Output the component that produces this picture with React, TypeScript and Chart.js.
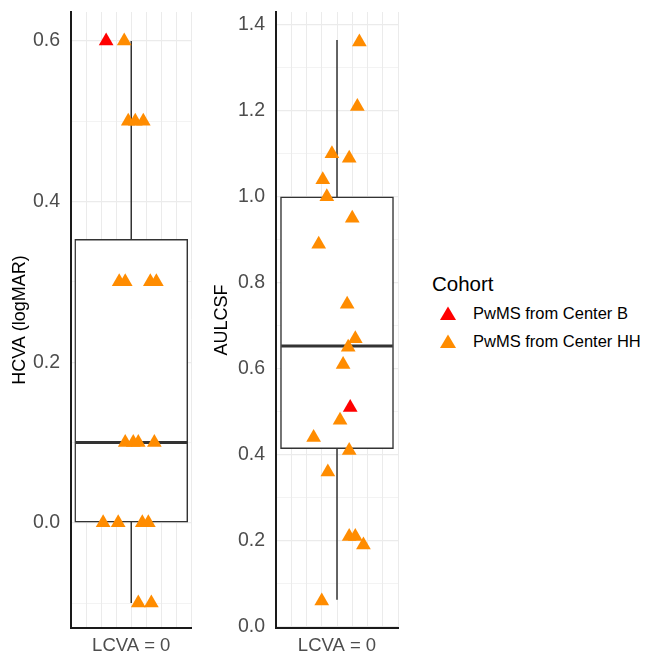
import React, { useEffect, useRef } from 'react';
import { Chart, registerables } from 'chart.js';

Chart.register(...registerables);

const FONT = "'Liberation Sans', Arial, Helvetica, sans-serif";

// ---------- data ----------
const CATEGORY = 'LCVA = 0';
const CATEGORY_POS = 1;
const COHORTS = ['PwMS from Center B', 'PwMS from Center HH'];
const COLORS = ['#FF0000', '#FF8C00'];
const LEGEND_TITLE = 'Cohort';

// x grid ticks (jitter axis around the single category)
const xGridTicks = [0.4, 0.55, 0.7, 0.85, 1.0, 1.15, 1.3, 1.45, 1.6];

// HCVA (logMAR) panel
const hcvaB = [0.6];
const hcvaBJitter = [0.75];
const hcvaHH = [0.6, 0.5, 0.5, 0.5, 0.3, 0.3, 0.3, 0.3, 0.1, 0.1, 0.1, 0.1, 0.0, 0.0, 0.0, 0.0, -0.1, -0.1];
const hcvaHHJitter = [0.93, 0.97, 1.04, 1.12, 0.88, 0.94, 1.19, 1.25, 0.94, 1.02, 1.07, 1.23, 0.72, 0.87, 1.11, 1.17, 1.07, 1.2];
// min, q1, median, q3, max
const hcvaBox = [-0.1, 0.0, 0.1, 0.353, 0.6];

// AULCSF panel
const aulcsfB = [0.51];
const aulcsfBJitter = [1.13];
const aulcsfHH = [1.36, 1.21, 1.1, 1.09, 1.04, 1.0, 0.95, 0.89, 0.75, 0.67, 0.65, 0.61, 0.48, 0.44, 0.41, 0.36, 0.21, 0.21, 0.19, 0.06];
const aulcsfHHJitter = [1.22, 1.2, 0.95, 1.12, 0.86, 0.9, 1.15, 0.82, 1.1, 1.18, 1.11, 1.06, 1.03, 0.77, 1.12, 0.91, 1.12, 1.18, 1.26, 0.85];
const aulcsfBox = [0.063, 0.414, 0.653, 1.0, 1.365];

type PanelProps = {
  left: number;
  width: number;
  height: number;
  yAxisWidth: number;
  padRight: number;
  titlePad: number;
  title: string;
  yMin: number;
  yMax: number;
  bY: number[];
  bX: number[];
  hhY: number[];
  hhX: number[];
  box: number[];
};

const isMajor = (v: number) => Math.round(v * 10) % 2 === 0;

function Panel(p: PanelProps) {
  const ref = useRef<HTMLCanvasElement>(null);
  useEffect(() => {
    const medianPlugin = {
      id: 'medianLine',
      afterDatasetDraw(chart: any, args: any) {
        if (args.index !== 2) return;
        const el = args.meta.data[0];
        if (!el) return;
        const ctx = chart.ctx;
        const y = chart.scales.y.getPixelForValue(p.box[2]);
        const half = el.width / 2;
        ctx.save();
        ctx.beginPath();
        ctx.lineWidth = 3;
        ctx.strokeStyle = '#333333';
        ctx.moveTo(el.x - half + 0.75, y);
        ctx.lineTo(el.x + half - 0.75, y);
        ctx.stroke();
        ctx.restore();
      },
    };
    const chart = new Chart(ref.current as HTMLCanvasElement, {
      type: 'scatter',
      data: {
        datasets: [
          {
            label: COHORTS[0],
            data: p.bY.map((y, i) => ({ x: p.bX[i], y })),
            pointStyle: 'triangle',
            pointRadius: 8.5,
            pointBackgroundColor: COLORS[0],
            pointBorderWidth: 0,
            borderColor: COLORS[0],
            backgroundColor: COLORS[0],
            order: 0,
          } as any,
          {
            label: COHORTS[1],
            data: p.hhY.map((y, i) => ({ x: p.hhX[i], y })),
            pointStyle: 'triangle',
            pointRadius: 8.5,
            pointBackgroundColor: COLORS[1],
            pointBorderWidth: 0,
            borderColor: COLORS[1],
            backgroundColor: COLORS[1],
            order: 0,
          } as any,
          {
            type: 'bar',
            label: 'box',
            data: [{ x: CATEGORY_POS, y: [p.box[1], p.box[3]] }],
            backgroundColor: '#FFFFFF',
            borderColor: '#333333',
            borderWidth: 1.5,
            borderSkipped: false,
            barThickness: 113,
            order: 1,
          } as any,
          {
            type: 'line',
            label: 'whisker',
            data: [
              { x: CATEGORY_POS, y: p.box[0] },
              { x: CATEGORY_POS, y: p.box[4] },
            ],
            borderColor: '#333333',
            borderWidth: 1.5,
            pointRadius: 0,
            showLine: true,
            order: 2,
          } as any,
        ],
      },
      options: {
        responsive: false,
        animation: false,
        devicePixelRatio: 1,
        events: [],
        layout: { padding: { left: 0, top: 12, right: p.padRight, bottom: 0 } },
        plugins: { legend: { display: false }, tooltip: { enabled: false } },
        scales: {
          x: {
            type: 'linear',
            min: 0.4,
            max: 1.6,
            offset: false,
            afterBuildTicks: (s: any) => {
              s.ticks = xGridTicks.map((v) => ({ value: v }));
            },
            afterFit: (s: any) => {
              s.height = 26;
              s.paddingLeft = 0;
              s.paddingRight = 0;
              s.paddingTop = 0;
              s.paddingBottom = 0;
            },
            grid: { color: '#EBEBEB', lineWidth: 1, drawTicks: false, offset: false },
            border: { display: true, color: '#1A1A1A', width: 2 },
            ticks: {
              autoSkip: false,
              maxRotation: 0,
              minRotation: 0,
              padding: 7,
              color: '#4D4D4D',
              font: { family: FONT, size: 18.5 },
              callback: (v: any) => (Math.abs(Number(v) - CATEGORY_POS) < 1e-6 ? CATEGORY : ''),
            },
          },
          y: {
            type: 'linear',
            min: p.yMin,
            max: p.yMax,
            beginAtZero: false,
            stacked: false,
            afterFit: (s: any) => {
              s.width = p.yAxisWidth;
              s.paddingTop = 0;
              s.paddingBottom = 0;
              s.paddingLeft = 0;
              s.paddingRight = 0;
            },
            grid: {
              color: '#EBEBEB',
              drawTicks: false,
              lineWidth: (c: any) => (c.tick && isMajor(c.tick.value) ? 1.2 : 0.6),
            },
            border: { display: true, color: '#1A1A1A', width: 2 },
            title: {
              display: true,
              text: p.title,
              color: '#000000',
              font: { family: FONT, size: 18 },
              padding: { top: p.titlePad, bottom: 0 },
            },
            ticks: {
              stepSize: 0.1,
              includeBounds: false,
              autoSkip: false,
              padding: 11,
              color: '#4D4D4D',
              font: { family: FONT, size: 19.5 },
              callback: (v: any) => (isMajor(Number(v)) ? Number(v).toFixed(1) : ''),
            },
          },
        },
      } as any,
      plugins: [medianPlugin],
    });
    return () => chart.destroy();
  }, []);
  return (
    <canvas
      ref={ref}
      width={p.width}
      height={p.height}
      style={{ position: 'absolute', left: p.left, top: 0, width: p.width, height: p.height }}
    />
  );
}

function Tri({ color }: { color: string }) {
  return (
    <svg width={16} height={14} style={{ display: 'block' }}>
      <polygon points="0,14 8,0.5 16,14" fill={color} />
    </svg>
  );
}

export default function App() {
  return (
    <div style={{ position: 'absolute', left: 0, top: 0, width: 647, height: 654, background: '#FFFFFF', fontFamily: FONT }}>
      <Panel
        left={0}
        width={200}
        height={654}
        yAxisWidth={71}
        padRight={7}
        titlePad={9.7}
        title="HCVA (logMAR)"
        yMin={-0.131}
        yMax={0.636}
        bY={hcvaB}
        bX={hcvaBJitter}
        hhY={hcvaHH}
        hhX={hcvaHHJitter}
        box={hcvaBox}
      />
      <Panel
        left={200}
        width={210}
        height={654}
        yAxisWidth={76}
        padRight={12}
        titlePad={11.7}
        title="AULCSF"
        yMin={-0.003}
        yMax={1.43}
        bY={aulcsfB}
        bX={aulcsfBJitter}
        hhY={aulcsfHH}
        hhX={aulcsfHHJitter}
        box={aulcsfBox}
      />
      <div style={{ position: 'absolute', left: 432, top: 273, fontSize: 20.5, lineHeight: '22px', color: '#000' }}>
        {LEGEND_TITLE}
      </div>
      {COHORTS.map((c, i) => (
        <div key={c} style={{ position: 'absolute', left: 440, top: 304 + i * 28, height: 18, display: 'flex', alignItems: 'center' }}>
          <Tri color={COLORS[i]} />
          <span style={{ marginLeft: 17, fontSize: 16.5, lineHeight: '18px', color: '#000' }}>{c}</span>
        </div>
      ))}
    </div>
  );
}
